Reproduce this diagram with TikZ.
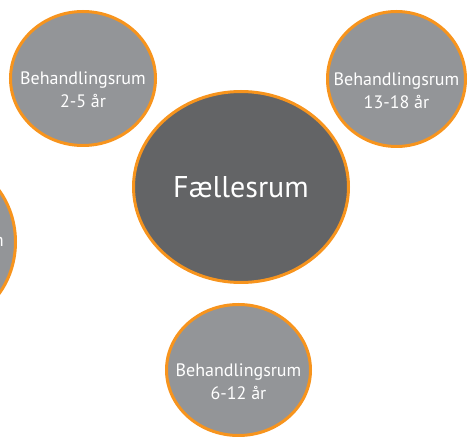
\documentclass[tikz,border=0pt]{standalone}
\usepackage{fontspec}
\setmainfont{PT Sans}
\usetikzlibrary{shapes.geometric}
\definecolor{roomgray}{HTML}{939598}
\definecolor{hallgray}{HTML}{636466}
\definecolor{rimorange}{HTML}{F7941D}

\begin{document}
\begin{tikzpicture}[x=1pt, y=-1pt,
    room/.style={ellipse, draw=rimorange, line width=3pt, fill=roomgray, inner sep=0pt},
    roomtext/.style={text=white, align=center, inner sep=0pt, font=\fontsize{18}{23}\selectfont}]
		\useasboundingbox (0,0) rectangle (469,438);
		\clip (0,0) rectangle (469,438);

		% treatment rooms round the common room
		\node[room, minimum width=145pt, minimum height=134pt] (small) at (83, 78.5) {};
		\node[room, minimum width=138pt, minimum height=135pt] (teen) at (396.5, 79) {};
		\node[room, minimum width=144pt, minimum height=131pt] (school) at (238.5, 370) {};
		\node[room, minimum width=149pt, minimum height=165pt] (other) at (-59, 242) {};

		\node[roomtext] (smalltext) at ([yshift=-11.5pt]small.center) {Behandlingsrum\\2-5 år};
		\node[roomtext] (teentext) at ([yshift=-11.5pt]teen.center) {Behandlingsrum\\13-18 år};
		\node[roomtext] (schooltext) at ([yshift=-11.5pt]school.center) {Behandlingsrum\\6-12 år};
		\node[roomtext] (othertext) at (other.center) {Behandlingsrum};

		% common room
		\node[room, fill=hallgray, minimum width=215pt, minimum height=191pt] (hall) at (241, 187) {};
		\node[roomtext, font=\fontsize{30}{36}\selectfont] (halltext) at (hall.center) {Fællesrum};
	\end{tikzpicture}
\end{document}
